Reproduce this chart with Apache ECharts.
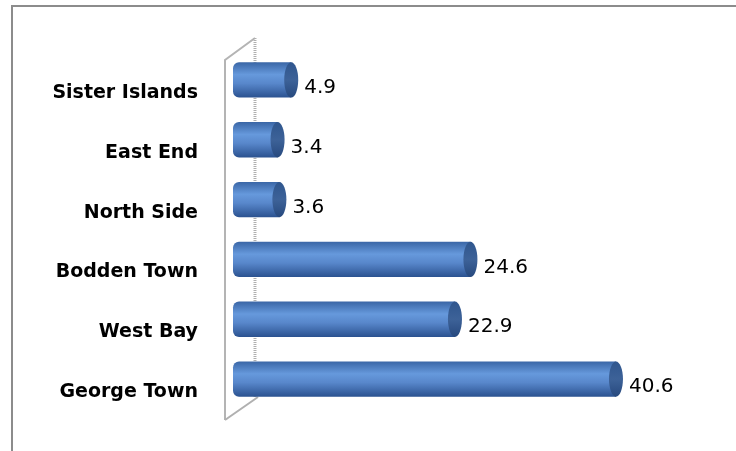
<!DOCTYPE html>
<html><head><meta charset="utf-8">
<script src="https://cdn.jsdelivr.net/npm/echarts@6/dist/echarts.min.js"></script>
<style>html,body{margin:0;padding:0;background:#fff}#c{width:736px;height:451px}</style>
</head><body><div id="c"></div>
<script>
var categories = ['George Town', 'West Bay', 'Bodden Town', 'North Side', 'East End', 'Sister Islands'];
var values = [40.6, 22.9, 24.6, 3.6, 3.4, 4.9];

var chart = echarts.init(document.getElementById('c'), null, {renderer: 'canvas'});

function renderCyl(params, api) {
  var idx = api.value(0);
  var val = api.value(1);
  var end = api.coord([val, idx]);
  var band = api.size([0, 1])[1];
  var h = band * 0.59;
  var x0 = params.coordSys.x;
  var x1 = end[0];
  var cy = end[1];
  var rx = 7;
  var grad = new echarts.graphic.LinearGradient(0, 0, 0, 1, [
    {offset: 0, color: '#3a66a6'},
    {offset: 0.35, color: '#6699dc'},
    {offset: 0.6, color: '#5887cb'},
    {offset: 1, color: '#2b5290'}
  ]);
  return {
    type: 'group',
    children: [
      {type: 'rect', shape: {x: x0, y: cy - h / 2, width: x1 - x0, height: h, r: [6, 0, 0, 6]}, style: {fill: grad}},
      {type: 'ellipse', shape: {cx: x1, cy: cy, rx: rx, ry: h / 2}, style: {fill: new echarts.graphic.LinearGradient(0, 0, 0, 1, [
        {offset: 0, color: '#2f568e'}, {offset: 0.5, color: '#3d6298'}, {offset: 1, color: '#27497e'}])}},
      {type: 'text', style: {text: String(val), x: x1 + 13, y: cy + 8, align: 'left', verticalAlign: 'middle',
        fill: '#000', font: '20px "DejaVu Sans"'}}
    ]
  };
}

chart.setOption({
  animation: false,
  grid: {left: 233, right: 80, top: 50, bottom: 42},
  xAxis: {type: 'value', min: -1.5, max: 45, show: false},
  yAxis: {
    type: 'category', data: categories,
    axisLine: {show: false}, axisTick: {show: false},
    axisLabel: {margin: 35, verticalAlign: 'top', lineHeight: 26, color: '#000', fontFamily: 'DejaVu Sans', fontWeight: 'bold', fontSize: 19}
  },
  graphic: [
    {type: 'rect', shape: {x: 12, y: 6, width: 900, height: 600}, style: {fill: 'none', stroke: '#8c8c8c', lineWidth: 2}, silent: true},
    {type: 'polyline', shape: {points: [[225, 420], [225, 60], [255, 38]]}, style: {fill: 'none', stroke: '#b4b4b4', lineWidth: 2}, silent: true, z: -1},
    {type: 'line', shape: {x1: 255, y1: 38, x2: 255, y2: 397}, style: {stroke: '#b0b0b0', lineWidth: 3, lineDash: [1, 1]}, silent: true, z: -1},
    {type: 'line', shape: {x1: 225, y1: 420, x2: 258, y2: 397}, style: {stroke: '#b0b0b0', lineWidth: 2}, silent: true, z: -1}
  ],
  series: [{
    type: 'custom',
    renderItem: renderCyl,
    encode: {x: 1, y: 0},
    data: values.map(function (v, i) { return [i, v]; }),
    z: 5
  }]
});
</script></body></html>
